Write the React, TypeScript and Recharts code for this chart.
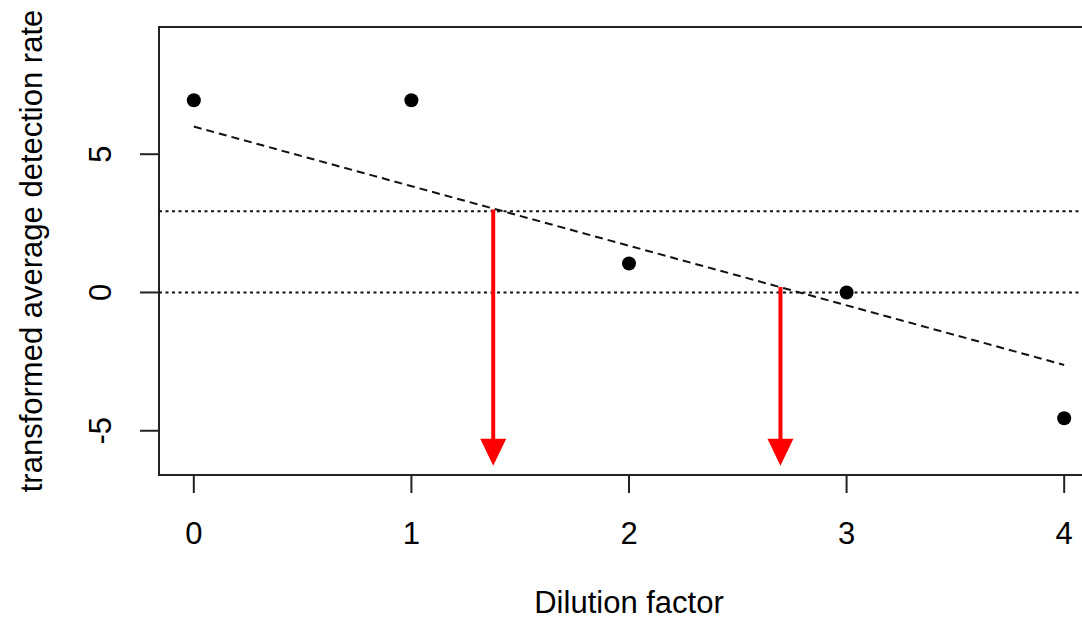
import React from "react";
import {
  ScatterChart,
  Scatter,
  XAxis,
  YAxis,
  ReferenceLine,
  ReferenceArea,
  Label,
} from "recharts";

// ---- data ----
const dilution = [0, 1, 2, 3, 4];
const detection = [6.95, 6.95, 1.05, 0, -4.55];
const xTicks = [0, 1, 2, 3, 4];
const yTicks = [-5, 0, 5];
const fitX = [0, 4];
const fitY = [6.0, -2.62];
const thresholds = [2.94, 0];
const arrowX = [1.376, 2.696];
const arrowTop = [3.0, 0.2];
const arrowShaftEnd = -5.6;
const arrowTip = -6.27;
const xDomain: [number, number] = [-0.16, 4.16];
const yDomain: [number, number] = [-6.6, 9.6];

const points = dilution.map((x, i) => ({ x, y: detection[i] }));
const arrowHeads = arrowX.map((x) => ({ x, y: arrowTip }));

const FONT = "'Liberation Sans', Arial, sans-serif";

const XTick = (props: any) => {
  const { x, payload } = props;
  return (
    <text x={x} y={544} textAnchor="middle" fontFamily={FONT} fontSize={31} fill="#000">
      {payload.value}
    </text>
  );
};

const YTick = (props: any) => {
  const { y, payload } = props;
  return (
    <text
      x={111}
      y={y}
      textAnchor="middle"
      fontFamily={FONT}
      fontSize={31}
      fill="#000"
      transform={`rotate(-90, 111, ${y})`}
    >
      {payload.value}
    </text>
  );
};

const Dot = (props: any) => <circle cx={props.cx} cy={props.cy} r={7} fill="#000" />;

const Head = (props: any) => {
  const { cx, cy } = props;
  return (
    <polygon
      points={`${cx},${cy} ${cx - 13},${cy - 27} ${cx + 13},${cy - 27}`}
      fill="#ff0000"
    />
  );
};

export default function App() {
  return (
    <div
      style={{
        position: "absolute",
        left: 0,
        top: 0,
        width: 1082,
        height: 621,
        overflow: "hidden",
        background: "#fff",
      }}
    >
      <ScatterChart
        width={1130}
        height={621}
        margin={{ top: 27, right: 31, left: 0, bottom: 0 }}
      >
        <XAxis
          type="number"
          dataKey="x"
          domain={xDomain}
          ticks={xTicks}
          allowDataOverflow
          height={146}
          axisLine={false}
          tickSize={18}
          tickLine={{ stroke: "#222", strokeWidth: 2 }}
          tick={<XTick />}
        >
          <Label
            content={() => (
              <text x={629} y={613} textAnchor="middle" fontFamily={FONT} fontSize={31} fill="#000">
                Dilution factor
              </text>
            )}
          />
        </XAxis>
        <YAxis
          type="number"
          dataKey="y"
          domain={yDomain}
          ticks={yTicks}
          allowDataOverflow
          width={159}
          axisLine={false}
          tickSize={19}
          tickLine={{ stroke: "#222", strokeWidth: 2 }}
          tick={<YTick />}
        >
          <Label
            content={() => (
              <text
                x={42}
                y={251}
                textAnchor="middle"
                fontFamily={FONT}
                fontSize={31}
                fill="#000"
                transform="rotate(-90, 42, 251)"
              >
                transformed average detection rate
              </text>
            )}
          />
        </YAxis>
        <ReferenceArea
          x1={xDomain[0]}
          x2={xDomain[1]}
          y1={yDomain[0]}
          y2={yDomain[1]}
          fill="none"
          fillOpacity={0}
          stroke="#222"
          strokeWidth={2}
          ifOverflow="visible"
        />
        {thresholds.map((t, i) => (
          <ReferenceLine
            key={"t" + i}
            y={t}
            stroke="#111"
            strokeWidth={2}
            strokeDasharray="3 3.5"
          />
        ))}
        <ReferenceLine
          segment={[
            { x: fitX[0], y: fitY[0] },
            { x: fitX[1], y: fitY[1] },
          ]}
          stroke="#111"
          strokeWidth={2}
          strokeDasharray="8 5"
        />
        {arrowX.map((x, i) => (
          <ReferenceLine
            key={"a" + i}
            segment={[
              { x, y: arrowTop[i] },
              { x, y: arrowShaftEnd },
            ]}
            stroke="#ff0000"
            strokeWidth={4}
          />
        ))}
        <Scatter data={points} shape={<Dot />} isAnimationActive={false} />
        <Scatter data={arrowHeads} shape={<Head />} isAnimationActive={false} />
      </ScatterChart>
    </div>
  );
}
